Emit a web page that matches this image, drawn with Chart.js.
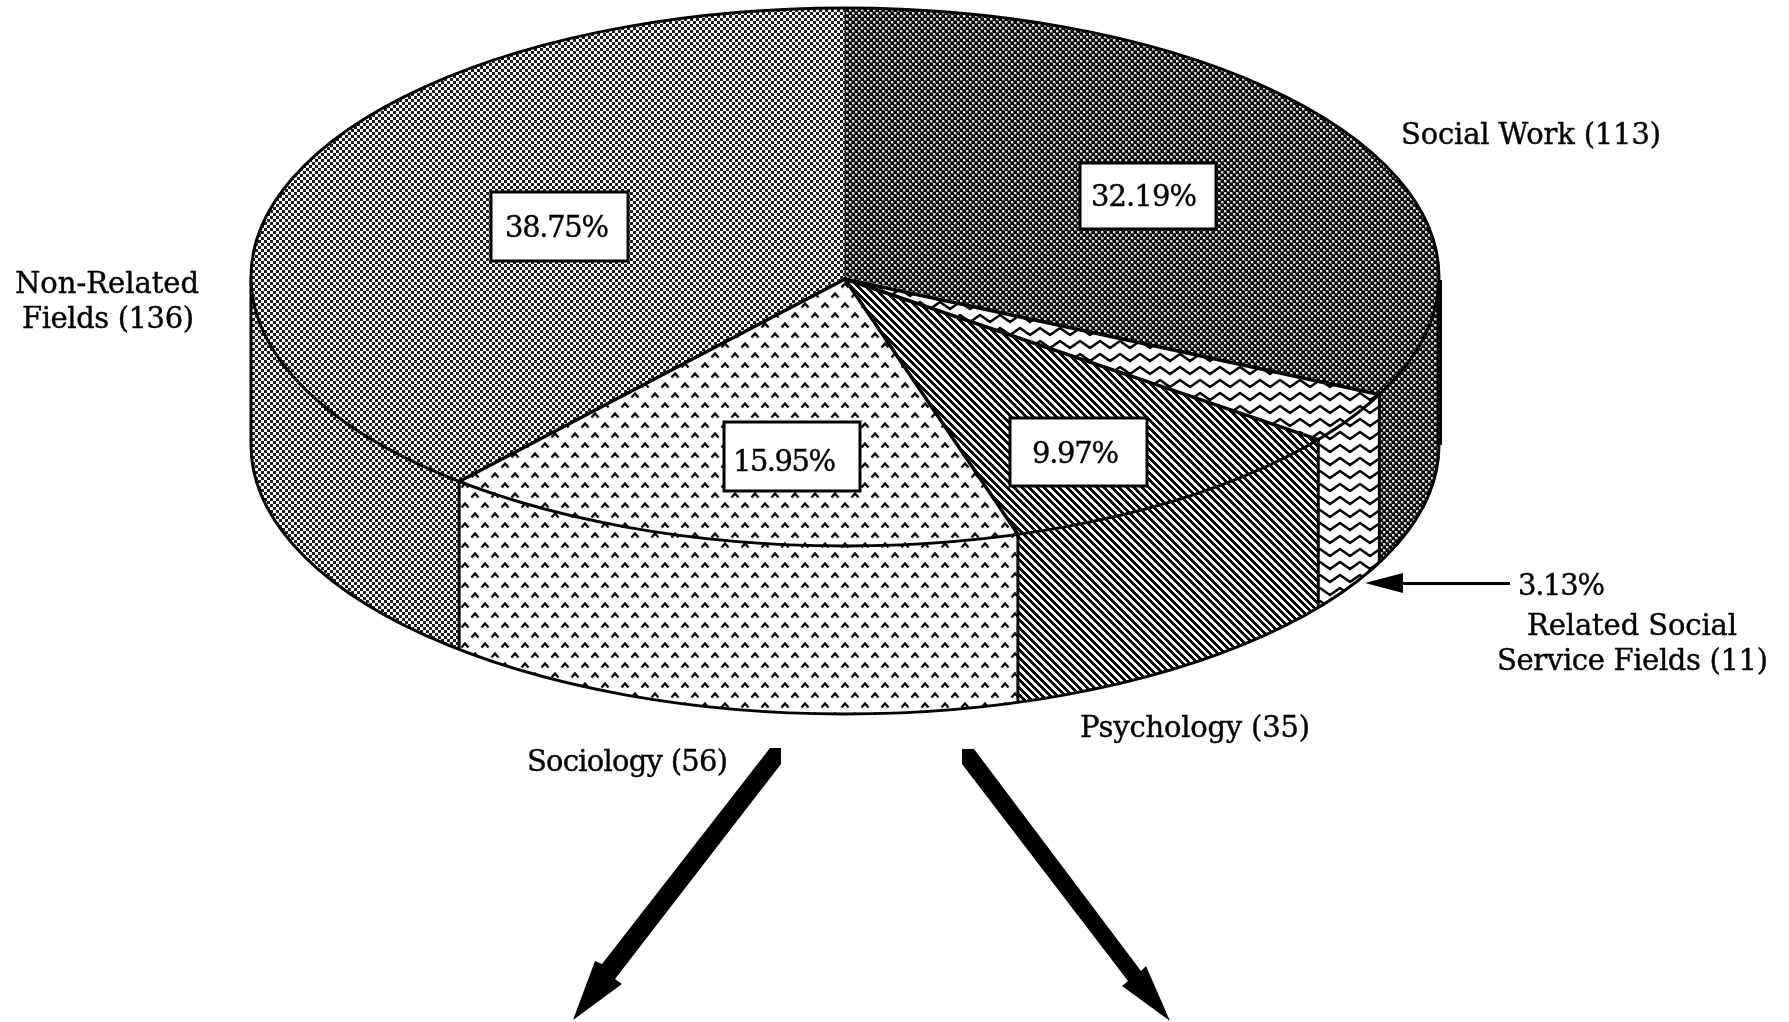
<!DOCTYPE html>
<html lang="en">
<head>
  <meta charset="UTF-8" />
  <title>Fields of study</title>
  <script src="https://cdn.jsdelivr.net/npm/chart.js"></script>
  <style>
    html, body { margin: 0; background: #fff; }
    canvas { display: block; }
  </style>
</head>
<body>
  <canvas id="pie" width="1789" height="1022"></canvas>

  <script>
    const categories = ["Social Work", "Related Social Service Fields", "Psychology", "Sociology", "Non-Related Fields"];
    const counts = [113, 11, 35, 56, 136];
    const percents = ["32.19%", "3.13%", "9.97%", "15.95%", "38.75%"];

    // ellipse of the top face and height of the wall
    const RX = 594, RY = 269, CX = 845, CY = 277, DEPTH = 168;
    const FONT = '29px "DejaVu Serif"';

    // text placed by left edge, width and baseline
    const labelLines = [
      { text: "Social Work (113)", x: 1401, w: 260, y: 144 },
      { text: "Non-Related", x: 15, w: 184, y: 293 },
      { text: "Fields (136)", x: 22, w: 172, y: 328 },
      { text: "Related Social", x: 1527, w: 210, y: 635 },
      { text: "Service Fields (11)", x: 1497, w: 271, y: 670 },
      { text: "Psychology (35)", x: 1080, w: 230, y: 737 },
      { text: "Sociology (56)", x: 527, w: 201, y: 771 },
    ];
    // boxed percentages, index into percents
    const percentBoxes = [
      { i: 4, box: [491, 192, 137, 69], x: 505, w: 104, y: 237 },
      { i: 0, box: [1080, 163, 136, 66], x: 1091, w: 106, y: 206 },
      { i: 3, box: [724, 422, 136, 69], x: 733, w: 103, y: 471 },
      { i: 2, box: [1010, 418, 137, 68], x: 1032, w: 87, y: 463 },
    ];

    const ctxMain = document.getElementById("pie").getContext("2d");

    function tile(w, h, paint) {
      const c = document.createElement("canvas");
      c.width = w;
      c.height = h;
      const g = c.getContext("2d");
      g.fillStyle = "#fff";
      g.fillRect(0, 0, w, h);
      g.fillStyle = "#000";
      g.strokeStyle = "#000";
      paint(g);
      return c;
    }

    const tiles = [
      // Social Work: white dots on black
      tile(6, 6, (g) => {
        g.fillRect(0, 0, 6, 6);
        [[0, 0], [3, 3]].forEach(([x, y]) => {
          g.fillStyle = "#555";
          g.fillRect(x, y, 3, 3);
          g.fillStyle = "#ddd";
          g.fillRect(x, y, 2, 2);
        });
      }),
      // Related: rows of waves
      tile(20, 13, (g) => {
        g.lineWidth = 2.6;
        g.lineJoin = "round";
        g.beginPath();
        g.moveTo(-10, 10);
        [0, 10, 20, 30].forEach((x, n) => g.lineTo(x, n % 2 ? 10 : 3));
        g.stroke();
      }),
      // Psychology: diagonal stripes
      tile(15, 15, (g) => {
        for (let y = 0; y < 15; y++) {
          for (let x = 0; x < 15; x++) {
            if (((x - y + 30) % 7.5) < 3.75) g.fillRect(x, y, 1, 1);
          }
        }
      }),
      // Sociology: staggered carets
      tile(20, 20, (g) => {
        g.lineWidth = 2.3;
        [[5, 5], [15, 15]].forEach(([x, y]) => {
          g.beginPath();
          g.moveTo(x - 3.5, y + 2.5);
          g.lineTo(x, y - 1.5);
          g.lineTo(x + 3.5, y + 2.5);
          g.stroke();
        });
      }),
      // Non-Related: 3px checker
      tile(6, 6, (g) => {
        g.fillStyle = "#1c1c1c";
        g.fillRect(0, 0, 3, 3);
        g.fillRect(3, 3, 3, 3);
      }),
    ];

    const wallPatterns = tiles.map((t) => ctxMain.createPattern(t, "repeat"));
    const topPatterns = tiles.map((t) => ctxMain.createPattern(t, "repeat"));

    function fittedText(ctx, text, x, w, y) {
      ctx.font = FONT;
      ctx.letterSpacing = "0px";
      const natural = ctx.measureText(text).width;
      ctx.letterSpacing = (w - natural) / (text.length - 1) + "px";
      ctx.textAlign = "left";
      ctx.textBaseline = "alphabetic";
      ctx.fillStyle = "#000";
      ctx.strokeStyle = "#000";
      ctx.lineWidth = 0.4;
      ctx.fillText(text, x, y);
      ctx.strokeText(text, x, y);
      ctx.letterSpacing = "0px";
    }

    function polygon(ctx, pts) {
      ctx.beginPath();
      pts.forEach(([x, y], n) => (n ? ctx.lineTo(x, y) : ctx.moveTo(x, y)));
      ctx.closePath();
      ctx.fill();
    }

    // tilts the library's round pie into an ellipse and extrudes it
    const tiltedPie = {
      id: "tiltedPie",
      beforeDatasetsDraw(chart) {
        const ctx = chart.ctx;
        const arcs = chart.getDatasetMeta(0).data;

        arcs.forEach((arc, i) => {
          const a0 = Math.max(arc.startAngle, 0);
          const a1 = Math.min(arc.endAngle, Math.PI);
          if (a1 <= a0) return;
          ctx.beginPath();
          ctx.ellipse(CX, CY, RX, RY, 0, a0, a1);
          ctx.ellipse(CX, CY + DEPTH, RX, RY, 0, a1, a0, true);
          ctx.closePath();
          ctx.fillStyle = wallPatterns[i];
          ctx.fill();
        });

        ctx.strokeStyle = "#000";
        ctx.lineWidth = 3;
        ctx.beginPath();
        ctx.ellipse(CX, CY + DEPTH, RX, RY, 0, 0, Math.PI);
        ctx.stroke();
        arcs.forEach((arc) => {
          const a = arc.endAngle;
          if (a <= 0 || a >= Math.PI) return;
          const x = CX + RX * Math.cos(a);
          const y = CY + RY * Math.sin(a);
          ctx.beginPath();
          ctx.moveTo(x, y);
          ctx.lineTo(x, y + DEPTH);
          ctx.stroke();
        });
        ctx.beginPath();
        ctx.moveTo(CX - RX, CY);
        ctx.lineTo(CX - RX, CY + DEPTH);
        ctx.stroke();
        ctx.lineWidth = 5;
        ctx.beginPath();
        ctx.moveTo(CX + RX + 0.5, CY + 3);
        ctx.lineTo(CX + RX + 0.5, CY + DEPTH);
        ctx.stroke();

        // top face: same pattern scale as the wall despite the squash
        const arc0 = arcs[0];
        const k = RY / arc0.outerRadius;
        const m = new DOMMatrix().translate(CX, CY).scale(1, k).translate(-arc0.x, -arc0.y);
        topPatterns.forEach((p) => p.setTransform(m.inverse()));
        ctx.save();
        ctx.setTransform(m);
      },
      afterDatasetsDraw(chart) {
        const ctx = chart.ctx;
        const arcs = chart.getDatasetMeta(0).data;
        ctx.restore();

        ctx.strokeStyle = "#000";
        ctx.lineCap = "round";
        ctx.lineWidth = 3;
        ctx.beginPath();
        ctx.ellipse(CX, CY, RX, RY, 0, 0, Math.PI * 2);
        ctx.stroke();

        arcs.forEach((arc, i) => {
          const a = arc.endAngle;
          // the seam at twelve o'clock stays a hairline
          ctx.lineWidth = i === arcs.length - 1 ? 1 : 3.5;
          ctx.beginPath();
          ctx.moveTo(CX, CY + 2);
          ctx.lineTo(CX + RX * Math.cos(a), CY + RY * Math.sin(a));
          ctx.stroke();
        });

        // boxed percentages
        percentBoxes.forEach(({ i, box, x, w, y }) => {
          ctx.fillStyle = "#fff";
          ctx.fillRect(box[0], box[1], box[2], box[3]);
          ctx.strokeStyle = "#000";
          ctx.lineWidth = 3;
          ctx.strokeRect(box[0], box[1], box[2], box[3]);
          fittedText(ctx, percents[i], x, w, y);
        });

        labelLines.forEach((l) => fittedText(ctx, l.text, l.x, l.w, l.y));
        fittedText(ctx, percents[1], 1518, 87, 595);

        // leader to the thin slice
        ctx.fillStyle = "#000";
        ctx.fillRect(1403, 582, 107, 3);
        polygon(ctx, [[1365, 583], [1403, 573], [1403, 593]]);

        // two big arrows leading down
        polygon(ctx, [[770, 748], [781, 748], [781, 764], [615, 979], [622, 984], [573, 1020], [595, 961], [602, 964]]);
        polygon(ctx, [[962, 749], [974, 749], [1141, 971], [1146, 966], [1170, 1021], [1122, 986], [1128, 981], [962, 764]]);
      },
    };

    new Chart(ctxMain, {
      type: "pie",
      data: {
        labels: categories,
        datasets: [{
          data: counts,
          backgroundColor: topPatterns,
          borderWidth: 0,
          clip: false,
        }],
      },
      options: {
        responsive: false,
        animation: false,
        devicePixelRatio: 1,
        radius: RX,
        events: [],
        layout: { padding: 0 },
        plugins: { legend: { display: false }, tooltip: { enabled: false } },
      },
      plugins: [tiltedPie],
    });
  </script>
</body>
</html>
